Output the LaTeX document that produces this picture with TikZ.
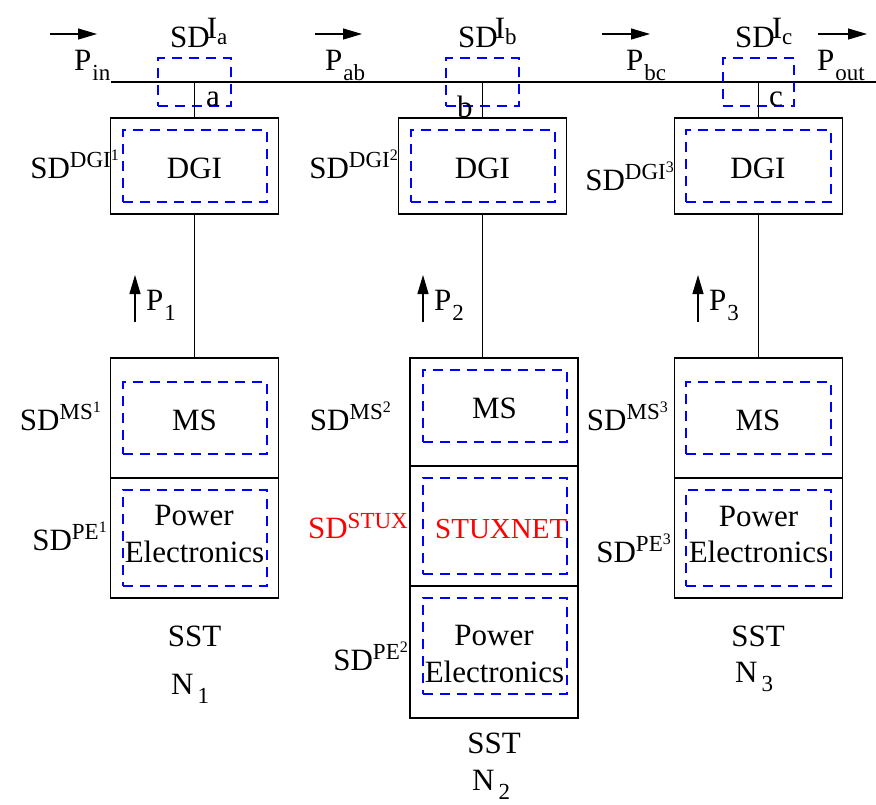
\documentclass[tikz,border=0pt]{standalone}
\usepackage{fontspec}
\setmainfont{Liberation Serif}
\usetikzlibrary{arrows.meta}
\newcommand\fs{\fontsize{31}{37}\selectfont}
\newcommand\supfs{\fontsize{23}{23}\selectfont}
\newcommand\ssfs{\fontsize{16}{16}\selectfont}
\newcommand\sdlab[2]{SD\raisebox{11pt}{\supfs #1\raisebox{7pt}{\ssfs #2}}}
\newcommand\sdI[1]{SD\kern-3pt\raisebox{9pt}{I}\raisebox{3pt}{\supfs #1}}
\newcommand\psub[2]{#1\kern1pt\raisebox{-10pt}{\supfs #2}}
\newcommand\nsub[1]{N\kern4pt\raisebox{-9pt}{\supfs #1}}
\tikzset{
  blk/.style={draw, line width=1.2pt, inner sep=0, minimum width=168pt},
  sdbox/.style={draw=blue, line width=1.2pt, dash pattern=on 10pt off 7pt, inner sep=0},
  txt/.style={inner sep=0, font=\fs, anchor=base},
  lab/.style={inner sep=0, font=\fs, anchor=base east},
  labw/.style={inner sep=0, font=\fs, anchor=base west},
  wire/.style={line width=1.2pt},
  arr/.style={line width=1.2pt, -{Triangle[length=19pt,width=11pt]}}
}
\begin{document}
\begin{tikzpicture}[x=1pt,y=-1pt]
\useasboundingbox (0,0) rectangle (876,804);
% bus
\coordinate (busL) at (111,82);
\coordinate (busR) at (876,82);
\coordinate (ja) at (194.5,82);
\coordinate (jb) at (482.5,82);
\coordinate (jc) at (758.5,82);
\draw[wire] (busL) -- (busR);
% junction security domains
\node[sdbox, minimum width=73pt, minimum height=48pt] (sdja) at (194.5,82) {};
\node[sdbox, minimum width=73pt, minimum height=48pt] (sdjb) at (482.5,82) {};
\node[sdbox, minimum width=71pt, minimum height=48pt] (sdjc) at (758.5,82) {};
% DGI boxes
\node[blk, minimum height=96pt] (dgi1) at (194.5,166) {};
\node[blk, minimum height=96pt] (dgi2) at (482.5,166) {};
\node[blk, minimum height=96pt] (dgi3) at (758.5,166) {};
\node[sdbox, minimum width=144pt, minimum height=72pt] (sddgi1) at (195,166) {};
\node[sdbox, minimum width=144pt, minimum height=72pt] (sddgi2) at (483,166) {};
\node[sdbox, minimum width=145pt, minimum height=72pt] (sddgi3) at (758.5,166) {};
% SST stacks
\node[blk, minimum height=120pt] (ms1) at (194.5,418) {};
\node[blk, minimum height=120pt] (pe1) at (194.5,538) {};
\node[blk, minimum height=120pt] (ms3) at (758.5,418) {};
\node[blk, minimum height=120pt] (pe3) at (758.5,538) {};
\node[blk, minimum height=108pt] (ms2) at (494,412) {};
\node[blk, minimum height=120pt] (stux2) at (494,526) {};
\node[blk, minimum height=132pt] (pe2) at (494,652) {};
\node[sdbox, minimum width=144pt, minimum height=72pt] (sdms1) at (195,418) {};
\node[sdbox, minimum width=144pt, minimum height=96pt] (sdpe1) at (195,538) {};
\node[sdbox, minimum width=145pt, minimum height=72pt] (sdms3) at (758.5,418) {};
\node[sdbox, minimum width=145pt, minimum height=96pt] (sdpe3) at (758.5,538) {};
\node[sdbox, minimum width=144pt, minimum height=72pt] (sdms2) at (495,406) {};
\node[sdbox, minimum width=144pt, minimum height=96pt] (sdstux) at (495,526) {};
\node[sdbox, minimum width=144pt, minimum height=96pt] (sdpe2) at (495,646) {};
% connectors
\draw[wire] (ja) -- (dgi1.north);
\draw[wire] (jb) -- (dgi2.north);
\draw[wire] (jc) -- (dgi3.north);
\draw[wire] (dgi1.south) -- (ms1.north);
\draw[wire] (dgi2.south) -- (dgi2.south |- ms2.north);
\draw[wire] (dgi3.south) -- (ms3.north);
% power flow arrows
\coordinate (pinA) at (50,34);   \coordinate (pinB) at (97,34);
\coordinate (pabA) at (315,34);  \coordinate (pabB) at (362,34);
\coordinate (pbcA) at (602,34);  \coordinate (pbcB) at (650,34);
\coordinate (poutA) at (818,34); \coordinate (poutB) at (867,34);
\draw[arr] (pinA) -- (pinB);
\draw[arr] (pabA) -- (pabB);
\draw[arr] (pbcA) -- (pbcB);
\draw[arr] (poutA) -- (poutB);
\coordinate (p1A) at (135,322); \coordinate (p1B) at (135,275);
\coordinate (p2A) at (423,322); \coordinate (p2B) at (423,275);
\coordinate (p3A) at (698,322); \coordinate (p3B) at (698,275);
\draw[arr] (p1A) -- (p1B);
\draw[arr] (p2A) -- (p2B);
\draw[arr] (p3A) -- (p3B);
% flow labels
\node[labw] (tpin) at (74,70) {\psub{P}{in}};
\node[labw] (tpab) at (325,70) {\psub{P}{ab}};
\node[labw] (tpbc) at (626,70) {\psub{P}{bc}};
\node[labw] (tpout) at (817,70) {\psub{P}{out}};
\node[labw] (tp1) at (146,310) {\psub{P}{1}};
\node[labw] (tp2) at (434,310) {\psub{P}{2}};
\node[labw] (tp3) at (709,310) {\psub{P}{3}};
% junction labels
\node[labw] (tsda) at (170,47) {\sdI{a}};
\node[labw] (tsdb) at (458,47) {\sdI{b}};
\node[labw] (tsdc) at (735,47) {\sdI{c}};
\node[labw] (ta) at (206,106) {a};
\node[labw] (tb) at (457,117) {b};
\node[labw] (tc) at (769,106) {c};
% inner texts
\node[txt] (tdgi1) at (194.5,178) {DGI};
\node[txt] (tdgi2) at (482.5,178) {DGI};
\node[txt] (tdgi3) at (758,178) {DGI};
\node[txt] (tms1) at (194.5,430) {MS};
\node[txt] (tms2) at (494.5,418) {MS};
\node[txt] (tms3) at (758,430) {MS};
\node[txt] (tpw1) at (194,525) {Power};
\node[txt] (tel1) at (194.5,562) {Electronics};
\node[txt] (tpw2) at (494,645) {Power};
\node[txt] (tel2) at (494.5,682) {Electronics};
\node[txt] (tpw3) at (758.5,526) {Power};
\node[txt] (tel3) at (758.5,562) {Electronics};
\node[labw, font=\fontsize{29}{35}\selectfont, text=red] (tstux) at (435,538) {STUXNET};
% security domain labels
\node[lab] (lsddgi1) at (119,178) {\sdlab{DGI}{1}};
\node[lab] (lsddgi2) at (398,178) {\sdlab{DGI}{2}};
\node[lab] (lsddgi3) at (674,190) {\sdlab{DGI}{3}};
\node[lab] (lsdms1) at (101,430) {\sdlab{MS}{1}};
\node[lab] (lsdms2) at (391,430) {\sdlab{MS}{2}};
\node[lab] (lsdms3) at (668,430) {\sdlab{MS}{3}};
\node[lab, text=red] (lsdstux) at (408,538) {SD\raisebox{10pt}{\supfs STUX}};
\node[lab] (lsdpe1) at (107,550) {\sdlab{PE}{1}};
\node[lab] (lsdpe2) at (408,670) {\sdlab{PE}{2}};
\node[lab] (lsdpe3) at (671,562) {\sdlab{PE}{3}};
% SST labels
\node[txt] (sst1) at (194.5,646) {SST};
\node[labw] (n1) at (171,694) {\nsub{1}};
\node[txt] (sst2) at (494,753) {SST};
\node[labw] (n2) at (472,790) {\nsub{2}};
\node[txt] (sst3) at (758,646) {SST};
\node[labw] (n3) at (735,682) {\nsub{3}};
\end{tikzpicture}
\end{document}
